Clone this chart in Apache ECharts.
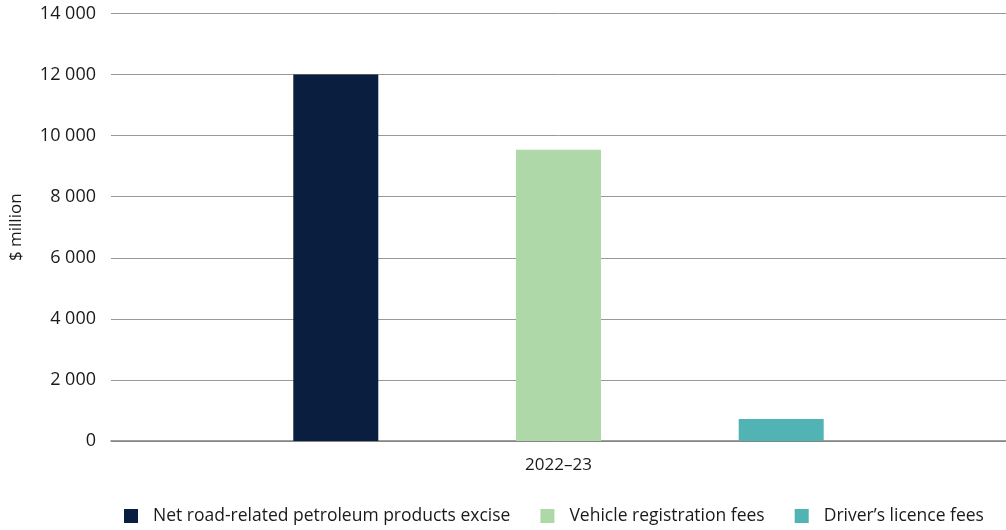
<!DOCTYPE html>
<html>
<head>
<meta charset="utf-8">
<script src="https://cdn.jsdelivr.net/npm/echarts@6/dist/echarts.min.js"></script>
<style>html,body{margin:0;padding:0;background:#fff;}#c{width:1006px;height:530px;}</style>
</head>
<body>
<div id="c"></div>
<script>
const categories = ['2022–23'];
const seriesNames = ['Net road-related petroleum products excise', 'Vehicle registration fees', 'Driver’s licence fees'];
const excise = [12000];
const registration = [9540];
const licence = [720];
const colors = ['#0a1f3f', '#afd8a8', '#52b3b4'];
const yTicks = { min: 0, max: 14000, interval: 2000 };

const chart = echarts.init(document.getElementById('c'));
const fmt = v => String(v).replace(/\B(?=(\d{3})+(?!\d))/g, ' ');
const values = [excise, registration, licence];
chart.setOption({
  animation: false,
  color: colors,
  grid: { left: 107, right: 0, top: 13.5, bottom: 89, containLabel: false },
  legend: {
    bottom: 0,
    left: 119,
    itemWidth: 14,
    itemHeight: 14,
    itemGap: 30,
    icon: 'rect',
    textStyle: { fontFamily: 'Open Sans', fontSize: 17.5, color: '#1a1a1a', padding: [0, 0, 0, 10] },
    data: seriesNames
  },
  xAxis: {
    type: 'category',
    data: categories,
    axisTick: { show: false },
    axisLine: { lineStyle: { color: '#7f7f7f', width: 1.5 } },
    axisLabel: { fontFamily: 'Open Sans', fontSize: 17, color: '#1a1a1a', margin: 16 }
  },
  yAxis: {
    type: 'value',
    min: yTicks.min, max: yTicks.max, interval: yTicks.interval,
    name: '$ million',
    nameLocation: 'middle',
    nameGap: 86,
    nameRotate: 90,
    nameTextStyle: { fontFamily: 'Open Sans', fontSize: 17, color: '#1a1a1a' },
    axisLine: { show: false },
    axisTick: { show: false },
    splitLine: { lineStyle: { color: '#999', width: 1 } },
    axisLabel: { fontFamily: 'Open Sans', fontSize: 18, color: '#1a1a1a', margin: 15, formatter: fmt }
  },
  series: seriesNames.map((n, i) => ({
    name: n,
    type: 'bar',
    data: values[i],
    barWidth: 85,
    barGap: '162%',
    itemStyle: { color: colors[i] }
  }))
});
</script>
</body>
</html>
